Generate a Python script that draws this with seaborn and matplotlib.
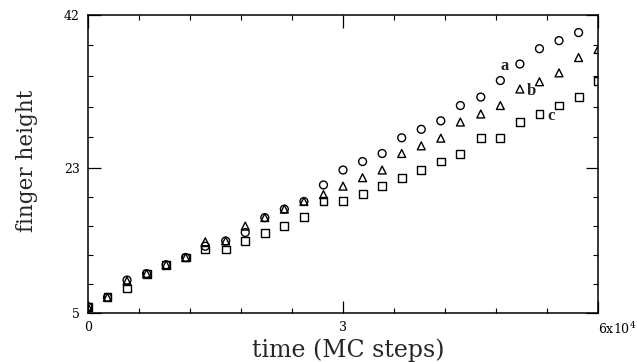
import numpy as np
import pandas as pd
import matplotlib
matplotlib.use('Agg')
import matplotlib.pyplot as plt
import seaborn as sns

# time in units of 10^4 MC steps
time = [0.0, 0.23, 0.46, 0.69, 0.92, 1.15, 1.38, 1.62, 1.85, 2.08, 2.31, 2.54, 2.77,
        3.0, 3.23, 3.46, 3.69, 3.92, 4.15, 4.38, 4.62, 4.85, 5.08, 5.31, 5.54, 5.77, 6.0]

height_a = [5.8, 6.95, 9.1, 9.9, 11.0, 11.9, 13.3, 13.95, 15.0, 16.85, 17.9, 18.85, 20.9,
            22.75, 23.8, 24.8, 26.75, 27.8, 28.85, 30.75, 31.8, 33.85, 35.9, 37.8, 38.8, 39.8, np.nan]
height_b = [5.8, 6.95, 9.0, 9.9, 11.0, 11.9, 13.85, 13.95, 15.8, 16.85, 17.9, 18.85, 19.7,
            20.75, 21.8, 22.75, 24.8, 25.75, 26.7, 28.7, 29.7, 30.75, 32.8, 33.7, 34.8, 36.7, 37.7]
height_c = [5.8, 6.95, 8.05, 9.9, 11.0, 11.9, 12.9, 12.9, 13.95, 14.95, 15.85, 16.9, 18.9,
            18.9, 19.8, 20.8, 21.8, 22.75, 23.8, 24.75, 26.75, 26.75, 28.75, 29.7, 30.75, 31.8, 33.8]

series_names = ['a', 'b', 'c']
series_markers = {'a': 'o', 'b': '^', 'c': 's'}
label_pos = {'a': (4.9, 35.6), 'b': (5.21, 32.5), 'c': (5.45, 29.4)}

x_ticks = [0, 3, 6]
x_ticklabels = ['0', '3', '6x10$^4$']
y_ticks = [5, 23, 42]
y_ticklabels = ['5', '23', '42']

df = pd.DataFrame({
    'time': time * 3,
    'height': height_a + height_b + height_c,
    'series': ['a'] * len(time) + ['b'] * len(time) + ['c'] * len(time),
})

sns.set_style('ticks')
plt.rcParams['font.family'] = ['DejaVu Serif']
plt.rcParams['mathtext.fontset'] = 'dejavuserif'

fig = plt.figure(figsize=(6.37, 3.62), dpi=100)
ax = fig.add_axes([0.138, 0.135, 0.801, 0.824])

for name in series_names:
    sub = df[df['series'] == name]
    sns.scatterplot(data=sub, x='time', y='height', marker=series_markers[name],
                    s=32, color='black', facecolor='none', edgecolor='black',
                    linewidth=1.0, ax=ax, legend=False, zorder=3)

for name in series_names:
    ax.text(*label_pos[name], name, fontsize=12, fontweight='bold',
            family=['Liberation Serif', 'DejaVu Serif'], ha='center', va='center')

ax.set_xlim(0, 6)
ax.set_ylim(5, 42)
ax.set_xticks(x_ticks)
ax.set_xticklabels(x_ticklabels, fontsize=9)
ax.set_yticks(y_ticks)
ax.set_yticklabels(y_ticklabels, fontsize=9)
ax.set_xticks(np.arange(0, 6.01, 0.6), minor=True)
ax.set_yticks(np.concatenate([np.linspace(5, 23, 6), np.linspace(23, 42, 6)]), minor=True)
ax.tick_params(which='both', direction='in', top=True, right=True, colors='black')
ax.tick_params(which='major', length=9, width=0.9, pad=6)
ax.tick_params(which='minor', length=3.5, width=0.8)
xlabels = ax.get_xticklabels()
xlabels[-1].set_horizontalalignment('left')
xlabels[-1].set_x(5.97)

for sp in ax.spines.values():
    sp.set_color('black')
    sp.set_linewidth(1.1)

ax.set_xlabel('time (MC steps)', fontsize=17, labelpad=0)
ax.xaxis.set_label_coords(0.51, -0.085, transform=ax.transAxes)
ax.xaxis.label.set_va('top')
ax.set_ylabel('finger height', fontsize=15.5)
ax.yaxis.set_label_coords(-0.12, 0.51, transform=ax.transAxes)
ax.yaxis.label.set_va('center')

fig.savefig('out.png', dpi=100)
plt.close(fig)
